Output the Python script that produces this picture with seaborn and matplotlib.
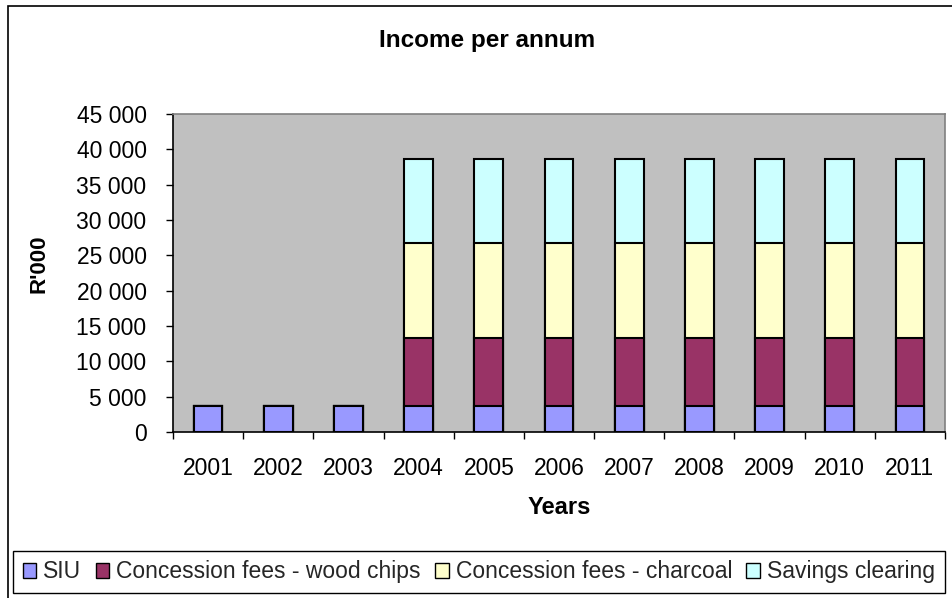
import matplotlib
matplotlib.use("Agg")
import matplotlib.pyplot as plt
from matplotlib.patches import Patch, Rectangle
from matplotlib.ticker import FuncFormatter, FixedLocator
import numpy as np
import pandas as pd
import seaborn as sns

# Income per annum, R'000
years = ["2001", "2002", "2003", "2004", "2005", "2006", "2007", "2008", "2009", "2010", "2011"]
siu = [3750, 3750, 3750, 3750, 3750, 3750, 3750, 3750, 3750, 3750, 3750]
wood_chips = [0, 0, 0, 9500, 9500, 9500, 9500, 9500, 9500, 9500, 9500]
charcoal = [0, 0, 0, 13550, 13550, 13550, 13550, 13550, 13550, 13550, 13550]
savings = [0, 0, 0, 11800, 11800, 11800, 11800, 11800, 11800, 11800, 11800]

series_names = ["SIU", "Concession fees - wood chips", "Concession fees - charcoal", "Savings clearing"]
series_colors = ["#9999FF", "#993366", "#FFFFCC", "#CCFFFF"]
y_ticks = [0, 5000, 10000, 15000, 20000, 25000, 30000, 35000, 40000, 45000]

sns.set_theme(style="white")
plt.rcParams["font.family"] = ["Liberation Sans", "DejaVu Sans"]

df = pd.DataFrame({"Year": years, series_names[0]: siu, series_names[1]: wood_chips,
                   series_names[2]: charcoal, series_names[3]: savings})
cum = df[series_names].cumsum(axis=1)

W, H = 952, 598
fig = plt.figure(figsize=(W / 100, H / 100), dpi=100)
ax = fig.add_axes([173 / W, 1 - 432 / H, (945 - 173) / W, (432 - 114) / H])
ax.set_facecolor("#C0C0C0")

# stacked bars: draw cumulative totals from the top layer down
for name, color in reversed(list(zip(series_names, series_colors))):
    sns.barplot(x=df["Year"], y=cum[name], color=color, width=0.41,
                edgecolor="black", linewidth=1.5, saturation=1, ax=ax, zorder=2)

ax.set_ylim(0, 45000)
ax.set_xlim(-0.5, len(years) - 0.5)
ax.yaxis.set_major_locator(FixedLocator(y_ticks))
ax.yaxis.set_major_formatter(FuncFormatter(lambda v, p: f"{v:,.0f}".replace(",", " ")))
ax.tick_params(axis="y", which="major", left=True, length=5, width=1, color="black",
               pad=14, labelsize=16.5, labelcolor="black")
ax.tick_params(axis="x", which="major", bottom=False, length=0, pad=18,
               labelsize=16.5, labelcolor="black")
ax.xaxis.set_minor_locator(FixedLocator(np.arange(-0.5, len(years), 1.0)))
ax.tick_params(axis="x", which="minor", bottom=True, length=5, width=1, color="black")

for side in ["left", "bottom"]:
    ax.spines[side].set_color("black")
    ax.spines[side].set_linewidth(1.2)
for side in ["top", "right"]:
    ax.spines[side].set_color("#808080")
    ax.spines[side].set_linewidth(1.2)
    ax.spines[side].set_visible(True)

ax.set_xlabel("")
ax.set_ylabel("")
fig.text(487 / W, 1 - 40 / H, "Income per annum", ha="center", va="center",
         fontsize=17.5, fontweight="bold", color="black")
fig.text(559 / W, 1 - 507 / H, "Years", ha="center", va="center",
         fontsize=17, fontweight="bold", color="black")
fig.text(39 / W, 1 - 264 / H, "R'000", ha="center", va="center", rotation=90,
         fontsize=16, fontweight="bold", color="black")

handles = [Patch(facecolor=c, edgecolor="black", linewidth=1.0) for c in series_colors]
leg = fig.legend(handles, series_names, loc="lower left",
                 bbox_to_anchor=(13 / W, 1 - 593 / H), ncol=4, frameon=True,
                 fancybox=False, edgecolor="black", framealpha=1, fontsize=16.5,
                 handlelength=0.6, handleheight=0.6, handletextpad=0.3,
                 columnspacing=0.62, borderaxespad=0, borderpad=0.42)
leg.get_frame().set_linewidth(1.0)

# outer chart border
fig.patches.append(Rectangle((8 / W, -0.01), 1.0, 1 - 6 / H + 0.01, transform=fig.transFigure,
                             fill=False, edgecolor="black", linewidth=1.2))

fig.savefig("out.png", dpi=100)
